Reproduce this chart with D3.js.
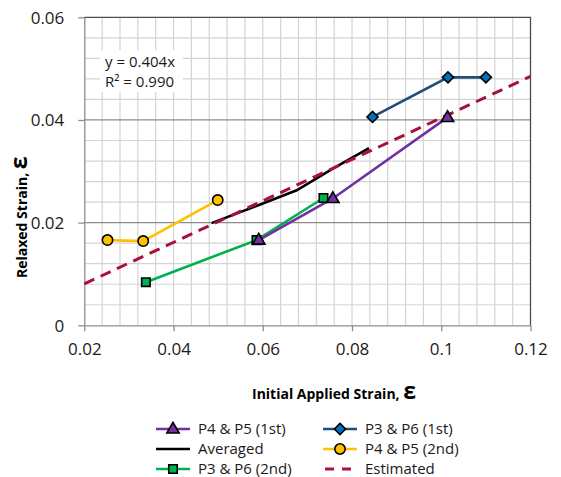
<!DOCTYPE html>
<html>
<head>
<meta charset="utf-8">
<script src="https://cdn.jsdelivr.net/npm/d3@7"></script>
<style>
  body { margin: 0; background: #fff; }
  svg { display: block; font-family: "Open Sans", sans-serif; }
</style>
</head>
<body>
<svg id="chart"></svg>
<script>
// series values
const p45first = [[0.0591, 0.0166], [0.0757, 0.0247], [0.1014, 0.0405]];
const p36first = [[0.0846, 0.0406], [0.1015, 0.0483], [0.110, 0.0483]];
const p45second = [[0.0252, 0.0166], [0.0332, 0.0164], [0.0499, 0.0244]];
const p36second = [[0.0338, 0.0084], [0.0586, 0.0166], [0.0736, 0.0248]];
const averaged = [[0.0485, 0.0199], [0.059, 0.0234], [0.0676, 0.0263], [0.0757, 0.0305], [0.0838, 0.0345]];
const slope = 0.404; // estimated: y = 0.404x
const estimated = [0.02, 0.12].map((x) => [x, slope * x]);

const xTicks = [0.02, 0.04, 0.06, 0.08, 0.1, 0.12];
const yTicks = [0, 0.02, 0.04, 0.06];

const width = 561;
const height = 477;
const svg = d3.select("#chart").attr("width", width).attr("height", height);

const x = d3.scaleLinear().domain([0.02, 0.12]).range([84.3, 530.5]);
const y = d3.scaleLinear().domain([0, 0.06]).range([325.3, 17.3]);

// minor grid every 0.004
const minorX = d3.range(0.024, 0.1199, 0.004);
const minorY = d3.range(0.004, 0.0599, 0.004);

const grid = svg.append("g");
grid.selectAll(".vx").data(minorX).join("line")
  .attr("x1", (d) => x(d)).attr("x2", (d) => x(d))
  .attr("y1", y(0)).attr("y2", y(0.06))
  .attr("stroke", "#d4d4d4").attr("stroke-width", 1.2);
grid.selectAll(".hy").data(minorY).join("line")
  .attr("y1", (d) => y(d)).attr("y2", (d) => y(d))
  .attr("x1", x(0.02)).attr("x2", x(0.12))
  .attr("stroke", (d) => (Math.abs(d / 0.02 - Math.round(d / 0.02)) < 1e-6 ? "#8c8c8c" : "#d4d4d4"))
  .attr("stroke-width", 1.2);

// plot border (top / right)
svg.append("path")
  .attr("d", `M${x(0.02)},${y(0.06)}H${x(0.12)}V${y(0)}`)
  .attr("fill", "none").attr("stroke", "#4d4d4d").attr("stroke-width", 1.3);

// axes
const xAxis = svg.append("g")
  .attr("transform", `translate(0,${y(0)})`)
  .call(d3.axisBottom(x).tickValues(xTicks).tickSize(6).tickSizeOuter(0).tickPadding(12)
    .tickFormat((d) => String(+d.toFixed(2))));
const yAxis = svg.append("g")
  .attr("transform", `translate(${x(0.02)},0)`)
  .call(d3.axisLeft(y).tickValues(yTicks).tickSize(6).tickSizeOuter(0).tickPadding(14)
    .tickFormat((d) => String(+d.toFixed(2))));
[xAxis, yAxis].forEach((a) => {
  a.select(".domain").attr("stroke", "#8c8c8c").attr("stroke-width", 1.3);
  a.selectAll(".tick line").attr("stroke", "#8c8c8c").attr("stroke-width", 1.3);
  a.selectAll(".tick text").attr("fill", "#1a1a1a")
    .style("font-size", "17px").style("font-family", "Open Sans");
});
xAxis.selectAll(".tick text").attr("dy", "0.71em");
yAxis.selectAll(".tick text").attr("dy", "0.35em");

// fit label
const eq = svg.append("g");
eq.append("rect").attr("x", 100).attr("y", 50).attr("width", 83).attr("height", 42).attr("fill", "#fff");
eq.append("text").attr("x", 105).attr("y", 67).style("font-size", "15px").attr("fill", "#1a1a1a").text("y = 0.404x");
eq.append("text").attr("x", 105).attr("y", 87).style("font-size", "15px").attr("fill", "#1a1a1a").text("R² = 0.990");

const line = d3.line().x((d) => x(d[0])).y((d) => y(d[1]));

const series = [
  { name: "P4 & P5 (1st)", data: p45first, stroke: "#7030a0", fill: "#7030a0", symbol: "triangle" },
  { name: "P3 & P6 (1st)", data: p36first, stroke: "#1f4e79", fill: "#0070c0", symbol: "diamond" },
  { name: "Averaged", data: averaged, stroke: "#000", fill: null, symbol: null },
  { name: "P4 & P5 (2nd)", data: p45second, stroke: "#ffc000", fill: "#ffc000", symbol: "circle" },
  { name: "P3 & P6 (2nd)", data: p36second, stroke: "#00b050", fill: "#00b050", symbol: "square" },
  { name: "Estimated", data: estimated, stroke: "#a8123a", fill: null, symbol: null, dash: "11,7" },
];

function marker(g, s, cx, cy) {
  if (s.symbol === "triangle") {
    g.append("path").attr("d", d3.symbol(d3.symbolTriangle, 66)())
      .attr("transform", `translate(${cx},${cy + 0.5})`)
      .attr("fill", s.fill).attr("stroke", "#000").attr("stroke-width", 1.6);
  } else if (s.symbol === "diamond") {
    g.append("path").attr("d", d3.symbol(d3.symbolSquare, 62)())
      .attr("transform", `translate(${cx},${cy}) rotate(45)`)
      .attr("fill", s.fill).attr("stroke", "#000").attr("stroke-width", 1.6);
  } else if (s.symbol === "square") {
    g.append("path").attr("d", d3.symbol(d3.symbolSquare, 72)())
      .attr("transform", `translate(${cx},${cy})`)
      .attr("fill", s.fill).attr("stroke", "#000").attr("stroke-width", 1.6);
  } else if (s.symbol === "circle") {
    g.append("circle").attr("cx", cx).attr("cy", cy).attr("r", 5.2)
      .attr("fill", s.fill).attr("stroke", "#000").attr("stroke-width", 1.6);
  }
}

// draw order: estimated under averaged
const drawOrder = ["P3 & P6 (2nd)", "P4 & P5 (1st)", "Averaged", "Estimated", "P3 & P6 (1st)", "P4 & P5 (2nd)"];
const plot = svg.append("g");
drawOrder.forEach((n) => {
  const s = series.find((d) => d.name === n);
  plot.append("path").datum(s.data).attr("d", line)
    .attr("fill", "none").attr("stroke", s.stroke)
    .attr("stroke-width", s.dash ? 3 : 2.6)
    .attr("stroke-dasharray", s.dash || null);
});
drawOrder.forEach((n) => {
  const s = series.find((d) => d.name === n);
  if (!s.symbol) return;
  const g = plot.append("g");
  s.data.forEach((d) => marker(g, s, x(d[0]), y(d[1])));
});

// axis titles
const xt = svg.append("text").attr("x", 252).attr("y", 399).attr("fill", "#000")
  .style("font-weight", "bold").style("font-size", "14px");
xt.append("tspan").text("Initial Applied Strain, ");
xt.append("tspan").style("font-size", "23px").text("ε");

const yt = svg.append("text").attr("transform", "translate(27,278) rotate(-90)").attr("fill", "#000")
  .style("font-weight", "bold").style("font-size", "14px");
yt.append("tspan").text("Relaxed Strain, ");
yt.append("tspan").style("font-size", "23px").text("ε");

// legend
const legendOrder = ["P4 & P5 (1st)", "P3 & P6 (1st)", "Averaged", "P4 & P5 (2nd)", "P3 & P6 (2nd)", "Estimated"];
const legend = svg.append("g");
legendOrder.forEach((n, i) => {
  const s = series.find((d) => d.name === n);
  const col = i % 2;
  const row = Math.floor(i / 2);
  const lx = col === 0 ? 156 : 323;
  const ly = 429 + row * 20;
  const g = legend.append("g");
  g.append("line").attr("x1", lx).attr("x2", lx + 34).attr("y1", ly).attr("y2", ly)
    .attr("stroke", s.stroke).attr("stroke-width", s.dash ? 3 : 2.6)
    .attr("stroke-dasharray", s.dash ? "9,8" : null)
    .attr("stroke-dashoffset", s.dash ? -2 : null);
  marker(g, s, lx + 17, ly);
  g.append("text").attr("x", lx + 42).attr("y", ly).attr("dy", "0.35em")
    .style("font-size", "15px").attr("fill", "#1a1a1a").text(s.name);
});
</script>
</body>
</html>
